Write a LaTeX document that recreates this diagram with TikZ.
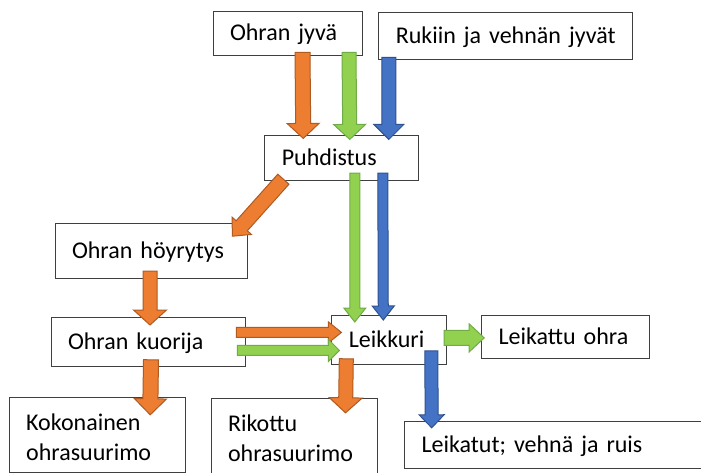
\documentclass[tikz,border=0pt]{standalone}
\usepackage{fontspec}
\setmainfont{Carlito}
\usepackage{xcolor}
\usepackage{tikz}
\usetikzlibrary{positioning, calc}

\definecolor{boxline}{HTML}{3F3F3F}
\definecolor{orangefill}{HTML}{ED7D31}
\definecolor{orangeedge}{HTML}{AE5A21}
\definecolor{greenfill}{HTML}{92D050}
\definecolor{greenedge}{HTML}{6FAC46}
\definecolor{bluefill}{HTML}{4472C4}
\definecolor{blueedge}{HTML}{2F528F}

% block arrow: [shaft half width/head half width/head length]{style}{from}{to}
\def\flowparse#1/#2/#3\relax{\def\flowsw{#1}\def\flowhw{#2}\def\flowhl{#3}}
\newcommand{\flow}[4][7.5pt/16pt/15pt]{%
  \flowparse#1\relax
  \coordinate (fh) at ($(#4)!\flowhl!(#3)$);
  \filldraw[#2] ($(#3)!\flowsw!90:(#4)$) -- ($(fh)!\flowsw!-90:(#3)$)
    -- ($(fh)!\flowhw!-90:(#3)$) -- (#4) -- ($(fh)!\flowhw!90:(#3)$)
    -- ($(fh)!\flowsw!90:(#3)$) -- ($(#3)!\flowsw!-90:(#4)$) -- cycle;}

\begin{document}
\begin{tikzpicture}[
    x=1pt, y=-1pt,
    box/.style={rectangle, draw=boxline, line width=0.8pt, fill=white,
      align=left, inner xsep=17pt, inner ysep=0pt,
      text height=18pt, text depth=3pt,
      font=\fontsize{24}{30}\selectfont},
    twoline/.style={box, inner ysep=16pt, text height=17pt, text depth=26pt},
    orangeflow/.style={fill=orangefill, draw=orangeedge, line width=1pt},
    greenflow/.style={fill=greenfill, draw=greenedge, line width=1pt},
    blueflow/.style={fill=bluefill, draw=blueedge, line width=1pt}
]
\useasboundingbox (0,0) rectangle (701,472);
\node[box, text width=115pt, minimum height=44pt] (JYVA) at (287.5,33) {Ohran jyvä};
\node[box, text width=220pt, minimum height=47pt] (RUKIIN) [right=16pt of JYVA, yshift=-2.5pt] {Rukiin ja vehnän jyvät};
\node[box, text width=120pt, minimum height=45pt] (PUHDISTUS) [below right=80pt and -98pt of JYVA] {Puhdistus};
\node[box, text width=158pt, minimum height=55pt] (HOYRYTYS) [below left=42pt and 17pt of PUHDISTUS] {Ohran höyrytys};
\node[box, text width=160pt, minimum height=49pt] (KUORIJA) [below right=38pt and -4pt of HOYRYTYS.south west] {Ohran kuorija};
\node[box, text width=81pt, minimum height=49pt] (LEIKKURI) [right=86pt of KUORIJA, yshift=2pt] {Leikkuri};
\node[box, text width=134pt, minimum height=43pt] (OHRA) [right=34pt of LEIKKURI, yshift=3pt] {Leikattu ohra};
\node[twoline, text width=142pt] (KOKONAINEN) [below left=30pt and -135pt of KUORIJA] {Kokonainen\\ohrasuurimo};
\node[twoline, text width=132pt, text depth=45pt] (RIKOTTU) [below left=33pt and -46pt of LEIKKURI] {Rikottu\\ohrasuurimo};
\node[box, text width=273pt, minimum height=47pt] (LEIKATUT) [below right=56pt and -43pt of LEIKKURI] {Leikatut; vehnä ja ruis};

% arrow ends
\coordinate (o1s) at ($(JYVA.south)+(15,-3)$);
\coordinate (o1t) at ($(PUHDISTUS.north)+(-38.5,3)$);
\coordinate (g1s) at ($(JYVA.south)+(61.5,-3)$);
\coordinate (g1t) at ($(PUHDISTUS.north)+(8,4)$);
\coordinate (b1s) at ($(RUKIIN.south)+(-117,-2)$);
\coordinate (b1t) at ($(PUHDISTUS.north)+(47,4)$);
\coordinate (o2s) at ($(PUHDISTUS.south west)+(19,-2)$);
\coordinate (o2t) at ($(HOYRYTYS.north east)+(-15,13)$);
\coordinate (g2s) at ($(PUHDISTUS.south)+(13,-8)$);
\coordinate (g2t) at ($(LEIKKURI.north)+(-34.5,7)$);
\coordinate (b2s) at ($(PUHDISTUS.south)+(41,-8)$);
\coordinate (b2t) at ($(LEIKKURI.north)+(-6,5)$);
\coordinate (o3s) at ($(HOYRYTYS.south)+(-1,-8)$);
\coordinate (o3t) at ($(KUORIJA.north)+(2,8)$);
\coordinate (o4s) at ($(KUORIJA.east)+(-9,-9.5)$);
\coordinate (o4t) at ($(LEIKKURI.west)+(10,-7.5)$);
\coordinate (g3s) at ($(KUORIJA.east)+(-8,8.5)$);
\coordinate (g3t) at ($(LEIKKURI.west)+(8,10.5)$);
\coordinate (g4s) at ($(LEIKKURI.east)+(-3,-2)$);
\coordinate (g4t) at ($(OHRA.west)+(3,1)$);
\coordinate (o5s) at ($(KUORIJA.south)+(3,-7)$);
\coordinate (o5t) at ($(KOKONAINEN.north)+(53,18)$);
\coordinate (o6s) at ($(LEIKKURI.south)+(-43,-6)$);
\coordinate (o6t) at ($(RIKOTTU.north)+(51.5,15)$);
\coordinate (b3s) at ($(LEIKKURI.south)+(42,-14)$);
\coordinate (b3t) at ($(LEIKATUT.north west)+(27.5,7)$);

\flow{orangeflow}{o1s}{o1t}
\flow[7pt/16pt/15pt]{greenflow}{g1s}{g1t}
\flow[7pt/15pt/15pt]{blueflow}{b1s}{b1t}
\flow[7.5pt/13pt/14pt]{orangeflow}{o2s}{o2t}
\flow[5pt/11pt/14pt]{greenflow}{g2s}{g2t}
\flow[5pt/11pt/14pt]{blueflow}{b2s}{b2t}
\flow[7pt/16.5pt/15pt]{orangeflow}{o3s}{o3t}
\flow[5pt/10.5pt/13pt]{orangeflow}{o4s}{o4t}
\flow[5pt/11pt/11pt]{greenflow}{g3s}{g3t}
\flow[7.5pt/14pt/15pt]{greenflow}{g4s}{g4t}
\flow[7.5pt/16pt/16pt]{orangeflow}{o5s}{o5t}
\flow[7pt/16.5pt/15pt]{orangeflow}{o6s}{o6t}
\flow[6.5pt/12.5pt/13pt]{blueflow}{b3s}{b3t}

\end{tikzpicture}
\end{document}
